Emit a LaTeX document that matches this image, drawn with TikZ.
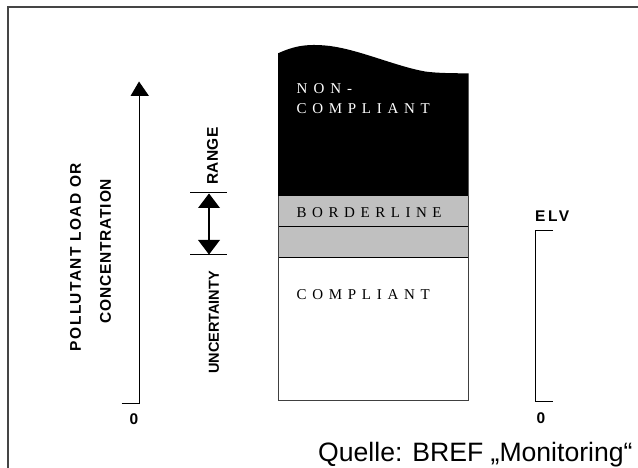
\documentclass[tikz,border=0pt]{standalone}
\usepackage{fontspec}
\setmainfont{Liberation Sans}
\newfontfamily\tnr{Liberation Serif}
\newfontfamily\sansbold{Liberation Sans Bold}
\definecolor{bandgray}{HTML}{C0C0C0}
\definecolor{framegray}{HTML}{454545}
\tikzset{
  axlabel/.style={rotate=90, inner sep=0pt, text=black},
  boxtext/.style={anchor=base west, inner sep=0pt},
  thinline/.style={line width=1pt, black},
  head/.style={fill=black, draw=none},
  zero/.style={anchor=base, inner sep=0pt, font=\fontsize{15.5}{17}\selectfont\sansbold},
}
\begin{document}
\begin{tikzpicture}[x=1pt,y=-1pt]
\useasboundingbox (0,0) rectangle (638,468);
% frame
\draw[line width=1.6pt, framegray] (8,470) -- (8,7) -- (640,7);

% left axis
\coordinate (axbot) at (139,403);
\coordinate (axtop) at (139,95);
\coordinate (axtick) at (121.5,403);
\draw[thinline] (axtick) -- (axbot) -- (axtop);
\fill[head] (139,81.5) -- (130.5,96) -- (149,96) -- cycle;
\node[zero] (z1) at (134,424) {0};

\node[axlabel, font=\fontsize{15.5}{17}\selectfont\sansbold\addfontfeature{LetterSpace=9}] (pl) at (75.5,257) {POLLUTANT LOAD OR};
\node[axlabel, font=\fontsize{15.5}{17}\selectfont\sansbold\addfontfeature{LetterSpace=5}] (co) at (105.5,251) {CONCENTRATION};

% range / uncertainty
\coordinate (t1a) at (190,193);
\coordinate (t1b) at (227,193);
\coordinate (t2a) at (190,255);
\coordinate (t2b) at (227,255);
\draw[thinline] (t1a) -- (t1b);
\draw[thinline] (t2a) -- (t2b);
\coordinate (ra) at (209,206);
\coordinate (rb) at (209,242);
\draw[line width=1.4pt] (ra) -- (rb);
\fill[head] (209,193.5) -- (198,208) -- (220,208) -- cycle;
\fill[head] (209,254.5) -- (198,240) -- (220,240) -- cycle;
\node[axlabel, font=\fontsize{15.5}{17}\selectfont\sansbold\addfontfeature{LetterSpace=2}] (rg) at (212.5,156) {RANGE};
\node[axlabel, font=\fontsize{14.5}{16}\selectfont\sansbold] (un) at (214,322.5) {UNCERTAINTY};

% column
\fill[black] (278,196) -- (278,53.3)
  .. controls (292,47) and (305,43) .. (330,46)
  .. controls (360,50) and (395,66) .. (425,71.5)
  .. controls (440,73.5) and (455,73) .. (468.5,73.5) -- (468.5,196) -- cycle;
\fill[bandgray] (278,196) rectangle (468.5,257);
\draw[line width=0.9pt, black] (278,226) -- (468.5,226);
\draw[line width=0.9pt, black] (278,257) -- (468.5,257);
\draw[line width=0.9pt, black!75] (278,196) -- (278,400.5) -- (468.5,400.5) -- (468.5,196);

\node[boxtext, text=white, font=\fontsize{15}{17}\selectfont\tnr\addfontfeature{LetterSpace=40}] (nc1) at (296.5,93.3) {NON-};
\node[boxtext, text=white, font=\fontsize{15}{17}\selectfont\tnr\addfontfeature{LetterSpace=38}] (nc2) at (296.5,113.3) {COMPLIANT};
\node[boxtext, text=black, font=\fontsize{15}{17}\selectfont\tnr\addfontfeature{LetterSpace=37}] (bl) at (296.5,217.3) {BORDERLINE};
\node[boxtext, text=black, font=\fontsize{15}{17}\selectfont\tnr\addfontfeature{LetterSpace=38}] (cp) at (296.5,299) {COMPLIANT};

% ELV bracket
\coordinate (e1) at (553,230.7);
\coordinate (e2) at (535.3,230.7);
\coordinate (e3) at (535.3,401.7);
\coordinate (e4) at (553,401.7);
\draw[thinline] (e1) -- (e2) -- (e3) -- (e4);
\node[boxtext, font=\fontsize{15.5}{17}\selectfont\sansbold\addfontfeature{LetterSpace=16}] (elv) at (535,221.7) {ELV};
\node[zero] (z2) at (541,423.5) {0};

% source
\node[boxtext, font=\fontsize{26.6}{30}\selectfont] (src) at (318,461.7) {Quelle: BREF „Monitoring“};
\end{tikzpicture}
\end{document}
